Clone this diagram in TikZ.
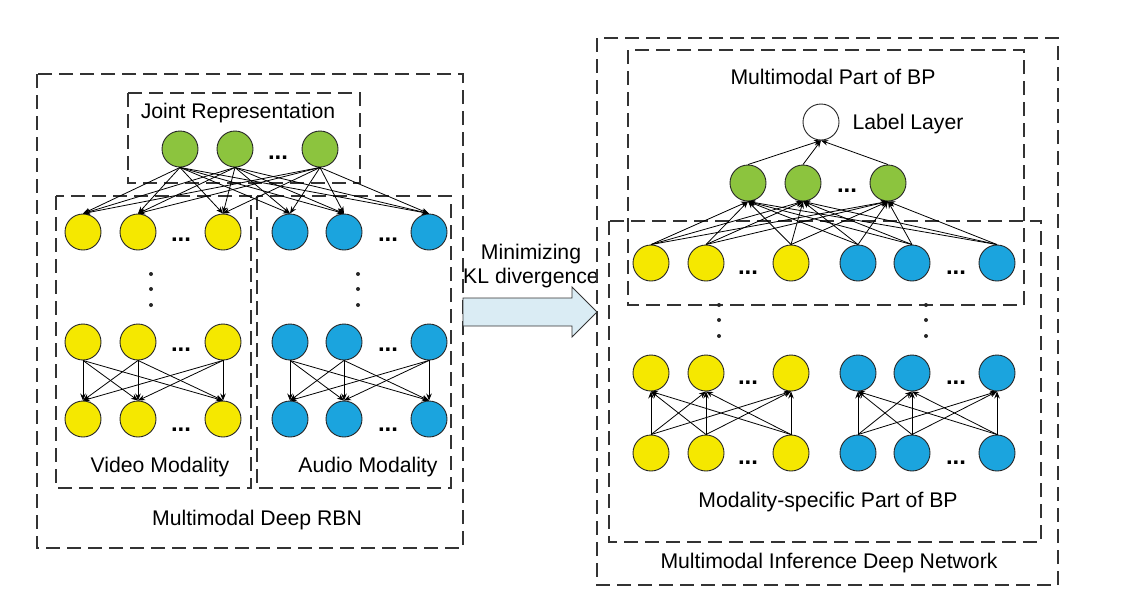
\documentclass[tikz,border=0pt]{standalone}
\usepackage{fontspec}
\setmainfont{Liberation Sans}
\usetikzlibrary{arrows.meta}
\definecolor{cyel}{RGB}{245,232,0}
\definecolor{cblu}{RGB}{27,164,222}
\definecolor{cgrn}{RGB}{140,196,62}
\definecolor{carr}{RGB}{218,236,244}
\tikzset{
  neuron/.style={circle,draw=black!85,line width=0.9pt,minimum size=36pt,inner sep=0pt},
  yn/.style={neuron,fill=cyel},
  bn/.style={neuron,fill=cblu},
  gn/.style={neuron,fill=cgrn},
  wn/.style={neuron,fill=white},
  dbox/.style={draw=black!80,line width=1.5pt,dash pattern=on 14pt off 7pt},
  con/.style={line width=0.8pt,-{Stealth[length=7pt,width=5.5pt]}},
  lbl/.style={font=\fontsize{21.2}{24}\selectfont,inner sep=0pt},
  ell/.style={font=\fontsize{24}{26}\selectfont\bfseries,inner sep=0pt},
  vdot/.style={circle,fill=black!85,inner sep=0pt,minimum size=4pt}
}
\begin{document}
\begin{tikzpicture}[x=1pt,y=-1pt]
\useasboundingbox (0,0) rectangle (1121,606);
% ---------- left boxes ----------
\draw[dbox] (37,74) rectangle (463,548);
\draw[dbox] (128,93) rectangle (360,183);
\draw[dbox] (56,196) rectangle (251,488);
\draw[dbox] (257,196) rectangle (451,488);
\node[lbl] (tjr) at (238,113) {Joint Representation};
\node[lbl] (tvm) at (160,467) {Video Modality};
\node[lbl] (tam) at (368,467) {Audio Modality};
\node[lbl] (trbn) at (257,520) {Multimodal Deep RBN};
% joint layer
\node[gn] (lg1) at (180,149) {};
\node[gn] (lg2) at (235,149) {};
\node[gn] (lg3) at (320,149) {};
\node[ell] (lgd) at (278,158) {...};
% top row
\foreach \n/\x in {1/83,2/138,3/223}{\node[yn] (lyt\n) at (\x,232) {};}
\foreach \n/\x in {1/290,2/344,3/429}{\node[bn] (lbt\n) at (\x,232) {};}
\node[ell] (lytd) at (181,240) {...};
\node[ell] (lbtd) at (388,240) {...};
% vertical dots
\foreach \y/\k in {274/a,289/b,305/c}{
  \node[vdot] (lvd\k) at (151,\y) {};
  \node[vdot] (lva\k) at (358,\y) {};
}
% middle & bottom rows
\foreach \n/\x in {1/83,2/138,3/223}{
  \node[yn] (lym\n) at (\x,342) {};
  \node[yn] (lyb\n) at (\x,419) {};
}
\foreach \n/\x in {1/290,2/344,3/429}{
  \node[bn] (lbm\n) at (\x,342) {};
  \node[bn] (lbb\n) at (\x,419) {};
}
\node[ell] (lymd) at (181,350) {...};
\node[ell] (lbmd) at (388,350) {...};
\node[ell] (lybd) at (181,430) {...};
\node[ell] (lbbd) at (388,430) {...};
% connections left
\foreach \g in {1,2,3}{
  \foreach \t in {lyt1,lyt2,lyt3,lbt1,lbt2,lbt3}{
    \draw[con] (lg\g.south) -- (\t.north);
  }
}
\foreach \a in {1,2,3}{
  \foreach \b in {1,2,3}{
    \draw[con] (lym\a.south) -- (lyb\b.north);
    \draw[con] (lbm\a.south) -- (lbb\b.north);
  }
}
% ---------- big arrow ----------
\draw[draw=black!80,line width=0.9pt,fill=carr,line join=miter]
  (463,298) -- (572,298) -- (572,287) -- (597,312) -- (572,337) -- (572,326) -- (463,326) -- cycle;
\node[lbl,align=center] (tkl) at (531,266) {Minimizing\\[0pt]KL divergence};
% ---------- right boxes ----------
\draw[dbox] (597,38) rectangle (1058,585);
\draw[dbox] (628,50) rectangle (1024,305);
\draw[dbox] (609,221) rectangle (1041,542);
\node[lbl] (tmp) at (833,77) {Multimodal Part of BP};
\node[lbl] (tll) at (908,124) {Label Layer};
\node[lbl] (tms) at (828,502) {Modality-specific Part of BP};
\node[lbl] (tmi) at (829,563) {Multimodal Inference Deep Network};
\node[wn] (rl) at (821,122) {};
\node[gn] (rg1) at (748,183) {};
\node[gn] (rg2) at (803,183) {};
\node[gn] (rg3) at (888,183) {};
\node[ell] (rgd) at (847,191) {...};
\foreach \n/\x in {1/651,2/706,3/791}{
  \node[yn] (ryt\n) at (\x,263) {};
  \node[yn] (rym\n) at (\x,373) {};
  \node[yn] (ryb\n) at (\x,453) {};
}
\foreach \n/\x in {1/858,2/912,3/997}{
  \node[bn] (rbt\n) at (\x,263) {};
  \node[bn] (rbm\n) at (\x,373) {};
  \node[bn] (rbb\n) at (\x,453) {};
}
\node[ell] (rytd) at (748,273) {...};
\node[ell] (rbtd) at (956,273) {...};
\node[ell] (rymd) at (748,383) {...};
\node[ell] (rbmd) at (956,383) {...};
\node[ell] (rybd) at (748,463) {...};
\node[ell] (rbbd) at (956,463) {...};
\foreach \y/\k in {305/a,320/b,336/c}{
  \node[vdot] (rvy\k) at (719,\y) {};
  \node[vdot] (rvb\k) at (926,\y) {};
}
% connections right
\foreach \g in {1,2,3}{
  \draw[con] (rg\g.north) -- (rl.south);
  \foreach \t in {ryt1,ryt2,ryt3,rbt1,rbt2,rbt3}{
    \draw[con] (\t.north) -- (rg\g.south);
  }
}
\foreach \a in {1,2,3}{
  \foreach \b in {1,2,3}{
    \draw[con] (ryb\a.north) -- (rym\b.south);
    \draw[con] (rbb\a.north) -- (rbm\b.south);
  }
}
\end{tikzpicture}
\end{document}
